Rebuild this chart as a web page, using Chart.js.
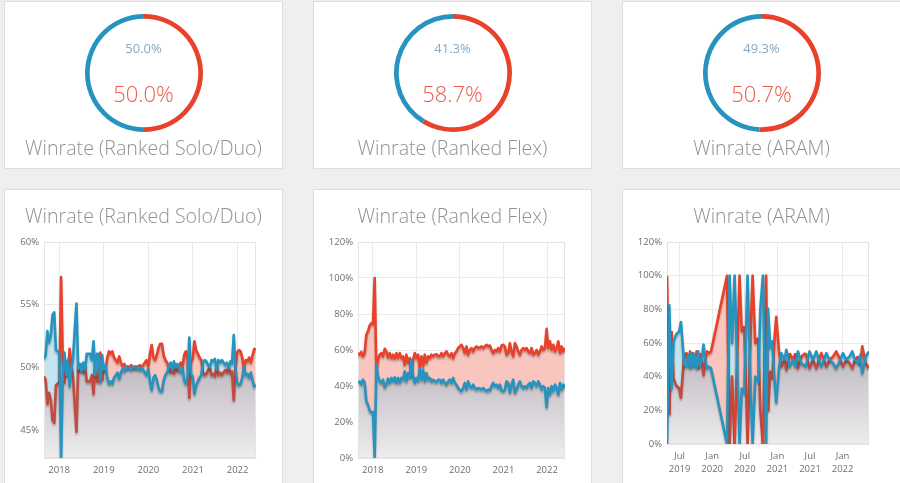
<!DOCTYPE html>
<html>
<head>
<meta charset="utf-8">
<title>Winrate</title>
<script src="https://cdn.jsdelivr.net/npm/chart.js@4.4.1/dist/chart.umd.min.js"></script>
<style>
  html, body { margin: 0; padding: 0; }
  body {
    width: 900px; height: 483px; overflow: hidden; position: relative;
    background: #efefef; font-family: 'Open Sans', sans-serif;
  }
  .card { position: absolute; width: 277px; background: #fff; border: 1px solid #dedede; }
  .card.top { top: 1px; height: 166px; }
  .card.bottom { top: 189px; height: 320px; }
  .card canvas { position: absolute; }
  .title, .loss, .win {
    position: absolute; left: 0; right: 0; text-align: center; white-space: nowrap; font-weight: 300;
  }
  .title { font-size: 19.6px; line-height: 20px; color: #929292; }
  .loss { top: 40px; font-size: 13px; line-height: 13px; color: #84a9c6; font-weight: 400; }
  .win { top: 80px; font-size: 22px; line-height: 22px; color: #ec5a4b; }
</style>
</head>
<body>
<script>
// game modes and overall winrate
const modes = ['Ranked Solo/Duo', 'Ranked Flex', 'ARAM'];
const winShare = [50.0, 58.7, 50.7];
const lossShare = [50.0, 41.3, 49.3];

// solo/duo + flex history: one sample every two weeks
const firstSample = 2017.66;
const sampleDays = 14;

const soloBlue = [
  50.7, 51.0, 52.9, 52.0, 52.6, 54.2, 54.4, 51.4, 51.3, 51.1,
  42.8, 49.5, 51.2, 49.4, 50.6, 48.5, 49.8, 50.8, 53.0, 55.1,
  49.9, 50.3, 49.7, 50.4, 49.8, 51.1, 51.1, 51.1, 50.6, 52.1,
  49.4, 51.1, 51.1, 48.8, 51.0, 49.8, 50.2, 49.2, 48.7, 48.9,
  48.7, 49.2, 49.4, 49.6, 49.1, 49.6, 49.9, 49.7, 50.1, 49.9,
  50.0, 49.8, 50.0, 50.1, 49.9, 50.0, 49.8, 50.0, 49.8, 49.6,
  49.4, 49.9, 48.9, 48.2, 49.2, 49.4, 49.0, 48.4, 48.1, 48.1,
  49.0, 49.4, 49.6, 50.0, 50.4, 49.8, 50.5, 50.0, 50.3, 49.9,
  49.6, 50.0, 49.0, 48.7, 49.3, 52.4, 49.5, 49.3, 47.9, 48.6,
  48.9, 49.2, 49.4, 50.4, 50.6, 50.5, 50.2, 50.0, 50.6, 50.5,
  50.7, 49.8, 50.6, 50.4, 50.6, 50.4, 50.2, 50.4, 49.9, 50.5,
  50.3, 52.6, 50.0, 48.8, 48.6, 48.7, 49.2, 50.1, 49.4, 49.5,
  49.2, 49.6, 49.0, 48.5, 48.6
];
const soloRed = [
  49.3, 49.0, 47.1, 48.0, 47.4, 45.8, 45.6, 48.6, 48.7, 48.9,
  57.2, 50.5, 48.8, 50.6, 49.4, 51.5, 50.2, 49.2, 47.0, 44.9,
  50.1, 49.7, 50.3, 49.6, 50.2, 48.9, 48.9, 48.9, 49.4, 47.9,
  50.6, 48.9, 48.9, 51.2, 49.0, 50.2, 49.8, 50.8, 51.3, 51.1,
  51.3, 50.8, 50.6, 50.4, 50.9, 50.4, 50.1, 50.3, 49.9, 50.1,
  50.0, 50.2, 50.0, 49.9, 50.1, 50.0, 50.2, 50.0, 50.2, 50.4,
  50.6, 50.1, 51.1, 51.8, 50.8, 50.6, 51.0, 51.6, 51.9, 51.9,
  51.0, 50.6, 50.4, 50.0, 49.6, 50.2, 49.5, 50.0, 49.7, 50.1,
  50.4, 50.0, 51.0, 51.3, 50.7, 47.6, 50.5, 50.7, 52.1, 51.4,
  51.1, 50.8, 50.6, 49.6, 49.4, 49.5, 49.8, 50.0, 49.4, 49.5,
  49.3, 50.2, 49.4, 49.6, 49.4, 49.6, 49.8, 49.6, 50.1, 49.5,
  49.7, 47.4, 50.0, 51.2, 51.4, 51.3, 50.8, 49.9, 50.6, 50.5,
  50.8, 50.4, 51.0, 51.5, 51.4
];

const flexRed = [
  58.3, 57.4, 58.9, 56.5, 58.3, 68.5, 70.3, 73.6, 74.9, 74.4,
  100, 48.0, 54.6, 57.4, 58.3, 56.5, 60.7, 59.2, 55.9, 58.3,
  55.5, 57.4, 55.2, 58.3, 55.5, 58.3, 55.5, 56.5, 51.8, 57.4,
  52.8, 55.5, 45.4, 54.6, 58.3, 55.5, 57.4, 50.0, 56.5, 50.9,
  57.4, 52.8, 56.5, 55.5, 57.4, 56.5, 57.4, 57.7, 56.5, 56.5,
  58.3, 56.5, 58.3, 59.2, 57.4, 56.5, 58.3, 55.5, 58.3, 59.2,
  61.1, 62.0, 62.9, 61.1, 58.3, 62.0, 57.4, 60.1, 61.1, 59.2,
  61.1, 62.0, 61.1, 61.4, 62.0, 61.1, 62.0, 62.9, 62.0, 62.5,
  60.1, 58.3, 60.1, 59.2, 61.1, 59.2, 62.5, 62.9, 62.0, 57.4,
  58.3, 63.8, 59.2, 56.5, 63.8, 62.0, 59.2, 57.4, 60.1, 61.1,
  60.1, 61.1, 59.2, 58.3, 61.1, 57.4, 58.3, 60.1, 57.4, 59.2,
  62.0, 60.1, 61.1, 71.8, 61.1, 64.8, 60.1, 62.9, 59.2, 61.1,
  64.8, 58.3, 62.0, 59.2, 61.1
];
const flexBlue = [
  41.7, 42.6, 41.1, 43.5, 41.7, 31.5, 29.7, 26.4, 25.1, 25.6,
  0, 52.0, 45.4, 42.6, 41.7, 43.5, 39.3, 40.8, 44.1, 41.7,
  44.5, 42.6, 44.8, 41.7, 44.5, 41.7, 44.5, 43.5, 48.2, 42.6,
  47.2, 44.5, 54.6, 45.4, 41.7, 44.5, 42.6, 50.0, 43.5, 49.1,
  42.6, 47.2, 43.5, 44.5, 42.6, 43.5, 42.6, 42.3, 43.5, 43.5,
  41.7, 43.5, 41.7, 40.8, 42.6, 43.5, 41.7, 44.5, 41.7, 40.8,
  38.9, 38.0, 37.1, 38.9, 41.7, 38.0, 42.6, 39.9, 38.9, 40.8,
  38.9, 38.0, 38.9, 38.6, 38.0, 38.9, 38.0, 37.1, 38.0, 37.5,
  39.9, 41.7, 39.9, 40.8, 38.9, 40.8, 37.5, 37.1, 38.0, 42.6,
  41.7, 36.2, 40.8, 43.5, 36.2, 38.0, 40.8, 42.6, 39.9, 38.9,
  39.9, 38.9, 40.8, 41.7, 38.9, 42.6, 41.7, 39.9, 42.6, 40.8,
  38.0, 39.9, 38.9, 28.2, 38.9, 35.2, 39.9, 37.1, 40.8, 38.9,
  35.2, 41.7, 38.0, 40.8, 38.9
];

// ARAM history has gaps, so its dates are listed (decimal years)
const aramYears = [
  2019.307, 2019.342, 2019.377, 2019.408, 2019.445, 2019.495, 2019.521, 2019.572, 2019.607, 2019.633,
  2019.660, 2019.684, 2019.710, 2019.736, 2019.761, 2019.787, 2019.813, 2019.837, 2019.868, 2019.894,
  2019.920, 2019.951, 2019.982,
  2020.227, 2020.267, 2020.304, 2020.344, 2020.420, 2020.454, 2020.492, 2020.543, 2020.584, 2020.620,
  2020.661, 2020.707, 2020.738, 2020.779, 2020.827, 2020.856, 2020.891, 2020.922, 2020.957, 2020.983,
  2021.025, 2021.060, 2021.110, 2021.137, 2021.187, 2021.239, 2021.279, 2021.316, 2021.367, 2021.433,
  2021.494, 2021.546, 2021.597, 2021.638, 2021.673, 2021.715, 2021.750, 2021.801, 2021.853, 2021.903,
  2021.954,
  2022.006, 2022.057, 2022.107, 2022.149, 2022.190, 2022.236, 2022.271, 2022.302, 2022.353, 2022.405
];
const aramRed = [
  100, 17.6, 67, 39, 35, 33, 27.5, 53, 54, 47,
  55, 46, 54, 47, 55, 45, 54, 50, 41, 50,
  55, 54, 55,
  100, 0, 40, 0, 100, 67, 70, 0, 60, 100,
  60, 63, 20, 0, 100, 19.6, 43, 39, 63, 75.5,
  55, 46, 50, 44, 54, 50, 54, 45, 52, 54,
  45, 50, 45, 50, 54, 50, 46, 50, 52, 55,
  51,
  46, 50, 48, 45, 50, 52, 47, 58, 48, 45
];
const aramBlue = [
  0, 82.4, 33, 61, 65, 67, 72.5, 47, 46, 53,
  45, 54, 46, 53, 45, 55, 46, 50, 59, 50,
  45, 46, 45,
  0, 100, 60, 100, 0, 33, 30, 100, 40, 0,
  40, 37, 80, 100, 0, 80.4, 57, 61, 37, 24.5,
  45, 54, 50, 56, 46, 50, 46, 55, 48, 46,
  55, 50, 55, 50, 46, 50, 54, 50, 48, 45,
  49,
  54, 50, 52, 55, 50, 48, 53, 42, 52, 55
];

// axis ticks
const yearTicks = [2018, 2019, 2020, 2021, 2022];
const yearLabels = ['2018', '2019', '2020', '2021', '2022'];
const aramTicks = [2019.5, 2020, 2020.5, 2021, 2021.5, 2022];
const aramLabels = [['Jul', '2019'], ['Jan', '2020'], ['Jul', '2020'], ['Jan', '2021'], ['Jul', '2021'], ['Jan', '2022']];
const soloPctTicks = [45, 50, 55, 60];
const widePctTicks = [0, 20, 40, 60, 80, 100, 120];

const sampleYears = soloBlue.map((_, i) => firstSample + i * sampleDays / 365.25);

const RED = '#e8412c';
const RED_DARK = '#c24a40';
const BLUE = '#2694bf';
const PINK = '#f9c6bf';
const LIGHT_BLUE = '#c4e4ef';

Chart.defaults.font.family = "'Open Sans', sans-serif";
Chart.defaults.animation = false;

const cardLefts = [4, 313, 622];

const lineShadow = {
  id: 'lineShadow',
  beforeDatasetDraw(chart, args) {
    if (args.index > 1) return;
    const ctx = chart.ctx;
    ctx.save();
    ctx.shadowColor = 'rgba(0, 0, 0, 0.28)';
    ctx.shadowBlur = 2;
    ctx.shadowOffsetY = 2;
  },
  afterDatasetDraw(chart, args) {
    if (args.index > 1) return;
    chart.ctx.restore();
  }
};

const plotFrame = {
  id: 'plotFrame',
  beforeDatasetsDraw(chart) {
    const { ctx, chartArea: a } = chart;
    ctx.save();
    ctx.strokeStyle = '#e4e4e4';
    ctx.lineWidth = 1;
    ctx.strokeRect(a.left + 0.5, a.top + 0.5, a.right - a.left - 1, a.bottom - a.top - 1);
    ctx.restore();
  }
};

const lineSpecs = [
  { xs: sampleYears, red: soloRed, blue: soloBlue, yMin: 42.8, yMax: 60, yTicks: soloPctTicks,
    xTicks: yearTicks, xLabels: yearLabels, yWidth: 39, right: 26, xHeight: 32 },
  { xs: sampleYears, red: flexRed, blue: flexBlue, yMin: 0, yMax: 120, yTicks: widePctTicks,
    xTicks: yearTicks, xLabels: yearLabels, yWidth: 44, right: 26, xHeight: 32 },
  { xs: aramYears, red: aramRed, blue: aramBlue, yMin: 0, yMax: 120, yTicks: widePctTicks,
    xTicks: aramTicks, xLabels: aramLabels, yWidth: 44, right: 31, xHeight: 46 }
];

function grayFill(ctx) {
  const area = ctx.chart.chartArea;
  if (!area) return '#c5c0c6';
  const g = ctx.chart.ctx.createLinearGradient(0, area.top, 0, area.bottom);
  g.addColorStop(0, '#b8b2b9');
  g.addColorStop(0.6, '#c3bec4');
  g.addColorStop(1, '#eeecef');
  return g;
}

modes.forEach((mode, i) => {
  // doughnut card
  const top = document.createElement('div');
  top.className = 'card top';
  top.style.left = cardLefts[i] + 'px';
  top.innerHTML =
    '<canvas width="118" height="118" style="left:80px;top:12px"></canvas>' +
    '<div class="loss">' + lossShare[i].toFixed(1) + '%</div>' +
    '<div class="win">' + winShare[i].toFixed(1) + '%</div>' +
    '<div class="title" style="top:136px">Winrate (' + mode + ')</div>';
  document.body.appendChild(top);

  new Chart(top.querySelector('canvas'), {
    type: 'doughnut',
    data: {
      labels: ['Wins', 'Losses'],
      datasets: [{
        data: [winShare[i], lossShare[i]],
        backgroundColor: [RED, BLUE],
        borderWidth: 0
      }]
    },
    options: {
      responsive: false,
      cutout: '92%',
      plugins: { legend: { display: false }, tooltip: { enabled: false } }
    }
  });

  // history card
  const spec = lineSpecs[i];
  const bottom = document.createElement('div');
  bottom.className = 'card bottom';
  bottom.style.left = cardLefts[i] + 'px';
  bottom.innerHTML =
    '<div class="title" style="top:16px">Winrate (' + mode + ')</div>' +
    '<canvas width="277" height="260" style="left:0;top:40px"></canvas>';
  document.body.appendChild(bottom);

  const redPts = spec.xs.map((x, k) => ({ x, y: spec.red[k] }));
  const bluePts = spec.xs.map((x, k) => ({ x, y: spec.blue[k] }));

  new Chart(bottom.querySelector('canvas'), {
    type: 'line',
    data: {
      datasets: [
        {
          label: 'Losses', data: bluePts, order: 0,
          borderColor: BLUE, borderWidth: 2.6, borderJoinStyle: 'round', pointRadius: 0, fill: false
        },
        {
          label: 'Wins', data: redPts, order: 1,
          borderColor: RED, borderWidth: 2.6, borderJoinStyle: 'round', pointRadius: 0,
          fill: { target: 0, above: PINK, below: LIGHT_BLUE },
          segment: {
            borderColor: c => {
              const a = c.p0DataIndex, b = c.p1DataIndex;
              return spec.red[a] + spec.red[b] < spec.blue[a] + spec.blue[b] ? RED_DARK : RED;
            }
          }
        },
        {
          label: 'base', data: bluePts, order: 2,
          borderColor: 'rgba(0,0,0,0)', borderWidth: 0, pointRadius: 0,
          fill: 'start', backgroundColor: grayFill
        }
      ]
    },
    options: {
      responsive: false,
      layout: { padding: { top: 12, right: spec.right, bottom: 0, left: 0 } },
      plugins: {
        legend: { display: false },
        tooltip: { enabled: false },
        filler: { drawTime: 'beforeDatasetsDraw' }
      },
      scales: {
        x: {
          type: 'linear',
          min: spec.xs[0],
          max: spec.xs[spec.xs.length - 1],
          afterBuildTicks: s => { s.ticks = spec.xTicks.map(v => ({ value: v })); },
          afterFit: s => { s.height = spec.xHeight; },
          grid: { color: '#ebebeb', drawTicks: false },
          border: { color: '#e4e4e4' },
          ticks: {
            autoSkip: false, maxRotation: 0, padding: 6, color: '#6e6e6e',
            font: { size: 9.5, lineHeight: 1.37 },
            callback: (v, k) => spec.xLabels[k]
          }
        },
        y: {
          min: spec.yMin,
          max: spec.yMax,
          afterBuildTicks: s => { s.ticks = spec.yTicks.map(v => ({ value: v })); },
          afterFit: s => { s.width = spec.yWidth; },
          grid: { color: '#ebebeb', drawTicks: false },
          border: { color: '#e4e4e4' },
          ticks: {
            padding: 5, color: '#6e6e6e',
            font: { size: 9.5 },
            callback: v => v + '%'
          }
        }
      }
    },
    plugins: [plotFrame, lineShadow]
  });
});
</script>
</body>
</html>
